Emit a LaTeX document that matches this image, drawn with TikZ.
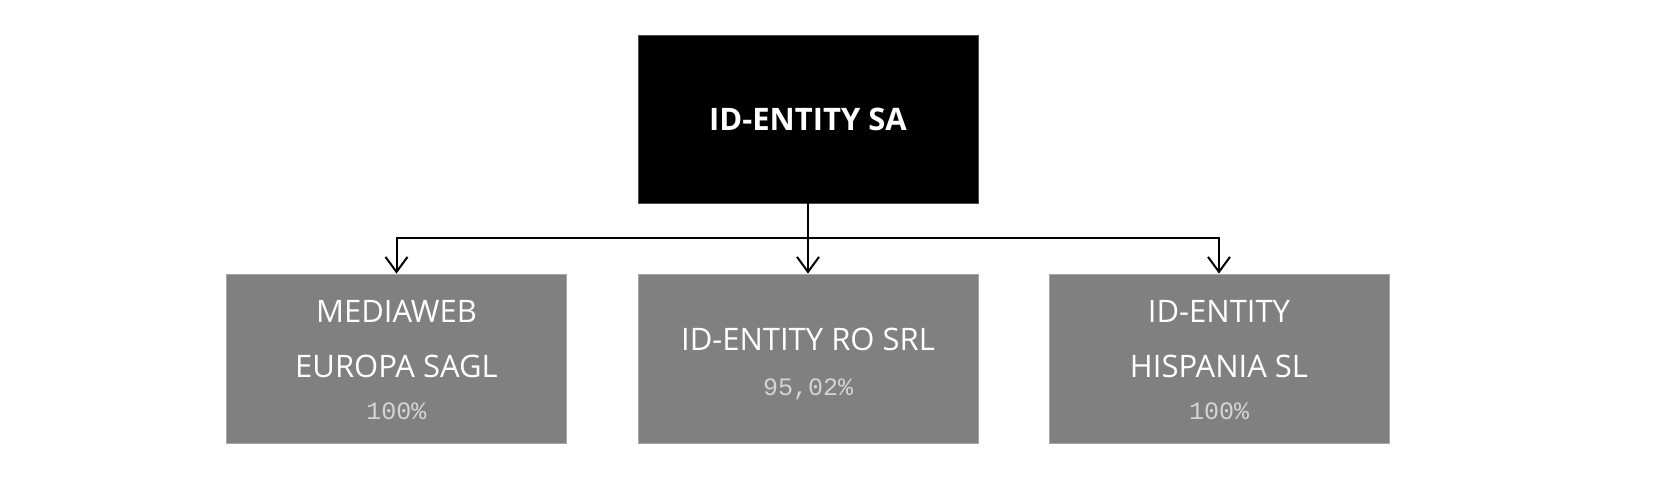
\documentclass[tikz,border=0pt]{standalone}
\usepackage{fontspec}
\setmainfont{Open Sans}
\newfontfamily\pctfont{Liberation Mono}
\usetikzlibrary{arrows.meta}
\definecolor{boxgray}{HTML}{808080}
\definecolor{pctgray}{HTML}{D4D4D4}
\tikzset{
  topbox/.style={fill=black, draw=black!70, line width=0.8pt, minimum width=340pt, minimum height=168pt, inner sep=0pt},
  subbox/.style={fill=boxgray, draw=black!35, line width=0.8pt, minimum width=340pt, minimum height=169pt, inner sep=0pt},
  nametext/.style={text=white, font=\fontsize{31}{31}\selectfont, anchor=base, inner sep=0pt},
  titletext/.style={text=white, font=\fontsize{31}{31}\selectfont\bfseries, anchor=base, inner sep=0pt},
  pcttext/.style={text=pctgray, font=\pctfont\fontsize{25}{25}\selectfont, anchor=base, inner sep=0pt},
  conn/.style={line width=2pt, draw=black},
  tip/.style={-{Straight Barb[length=15pt,width=22pt,line width=2pt]}},
}
\begin{document}
\begin{tikzpicture}[x=1pt,y=-1pt]
\useasboundingbox[fill=white] (0,0) rectangle (1655,495);
\node[topbox] (top) at (808,119) {};
\node[subbox] (b1) at (396.5,358.5) {};
\node[subbox] (b2) at (808,358.5) {};
\node[subbox] (b3) at (1219,358.5) {};
\node[titletext] (t0) at (808,130) {ID-ENTITY SA};
\node[nametext] (t1a) at (396.5,322) {MEDIAWEB};
\node[nametext] (t1b) at (396.5,377) {EUROPA SAGL};
\node[pcttext] (p1) at (396.5,419) {100\%};
\node[nametext] (t2a) at (808,350) {ID-ENTITY RO SRL};
\node[pcttext] (p2) at (808,395) {95,02\%};
\node[nametext] (t3a) at (1219,322) {ID-ENTITY};
\node[nametext] (t3b) at (1219,377) {HISPANIA SL};
\node[pcttext] (p3) at (1219,419) {100\%};
\coordinate (j) at (808,238);
\draw[conn,tip] (top.south) -- (b2.north);
\draw[conn,tip] (j) -| (b1.north);
\draw[conn,tip] (j) -| (b3.north);
\end{tikzpicture}
\end{document}
